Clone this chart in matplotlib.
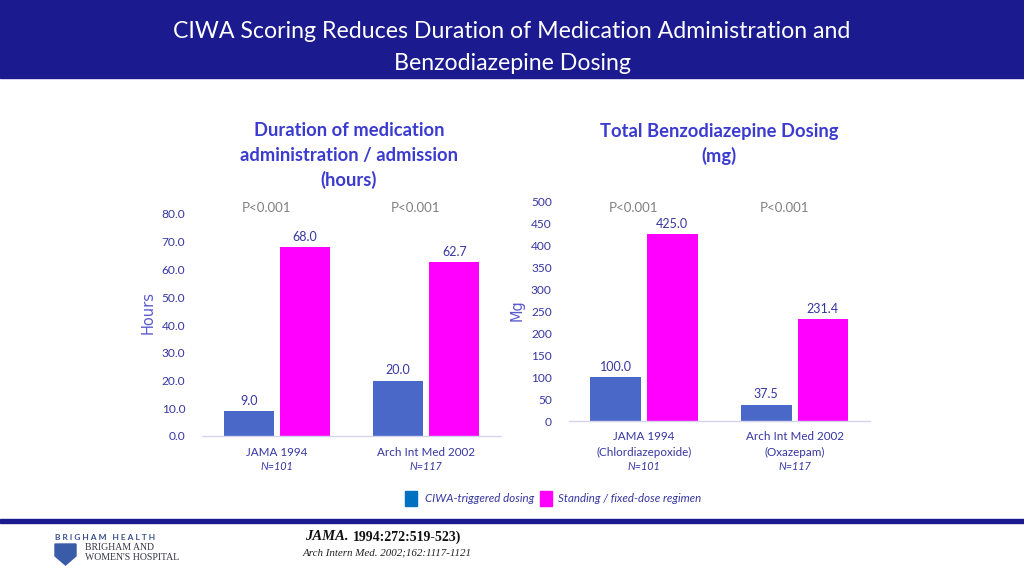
import matplotlib
matplotlib.use("Agg")
import matplotlib.pyplot as plt
from matplotlib.patches import Rectangle, Polygon
import numpy as np

# ---- data ----
left_categories = ["JAMA 1994", "Arch Int Med 2002"]
left_n = ["N=101", "N=117"]
left_ciwa = [9.0, 20.0]
left_fixed = [68.0, 62.7]
left_ticks = [0, 10, 20, 30, 40, 50, 60, 70, 80]

right_categories = ["JAMA 1994\n(Chlordiazepoxide)", "Arch Int Med 2002\n(Oxazepam)"]
right_n = ["N=101", "N=117"]
right_ciwa = [100.0, 37.5]
right_fixed = [425.0, 231.4]
right_ticks = [0, 50, 100, 150, 200, 250, 300, 350, 400, 450, 500]

pvalues = ["P<0.001", "P<0.001"]
series_names = ["CIWA-triggered dosing", "Standing / fixed-dose regimen"]

W, H = 1024, 576
NAVY = "#1b1a8f"
BLUE = "#4a68c8"
MAGENTA = "#ff00ff"
TXT = "#3636a0"
TITLE_C = "#3b3bd0"
GRAY = "#808080"
FONT = "Lato"

plt.rcParams['font.family'] = [FONT, 'DejaVu Sans']

fig = plt.figure(figsize=(W / 100, H / 100), dpi=100)


def fx(x):
    return x / W


def fy(y):
    return 1 - y / H


# header band
fig.patches.append(Rectangle((0, fy(78)), 1, 78 / H, transform=fig.transFigure,
                             color=NAVY, zorder=0))
fig.text(fx(512), fy(32), "CIWA Scoring Reduces Duration of Medication Administration and",
         ha="center", va="center", color="white", fontsize=16.7)
fig.text(fx(512), fy(63), "Benzodiazepine Dosing", ha="center", va="center",
         color="white", fontsize=16.7)

# bottom line
fig.patches.append(Rectangle((0, fy(523)), 1, 4 / H, transform=fig.transFigure,
                             color=NAVY, zorder=0))


def make_axes(l, r, b, t, cats, ns, ciwa, fixed, ticks, fmt, ylabel, ylab_x,
              ylab_y, label_y0):
    ax = fig.add_axes([fx(l), fy(b), (r - l) / W, (b - t) / H])
    x = np.arange(len(cats))
    w = 0.336
    off = 0.188
    ax.bar(x - off, ciwa, w, color=BLUE)
    ax.bar(x + off, fixed, w, color=MAGENTA)
    for xi, v in zip(x - off, ciwa):
        ax.annotate(f"{v:.1f}", (xi, v), xytext=(0, 3),
                    textcoords="offset points", ha="center", va="bottom",
                    fontsize=9, color=TXT)
    for xi, v in zip(x + off, fixed):
        ax.annotate(f"{v:.1f}", (xi, v), xytext=(0, 3),
                    textcoords="offset points", ha="center", va="bottom",
                    fontsize=9, color=TXT)
    ax.set_xlim(-0.5, len(cats) - 0.5)
    ax.set_ylim(ticks[0], ticks[-1])
    ax.set_yticks(ticks)
    ax.set_yticklabels([fmt.format(t) for t in ticks], fontsize=8.6, color=TXT)
    ax.tick_params(axis="y", length=0, pad=12)
    ax.set_xticks([])
    for s in ["top", "right", "left"]:
        ax.spines[s].set_visible(False)
    ax.spines["bottom"].set_color("#d4d4ee")
    ax.spines["bottom"].set_linewidth(1)
    # category labels
    for xi, c, n in zip(x, cats, ns):
        xp = ax.transData.transform((xi, 0))[0]
        lines = c.split("\n")
        y = label_y0
        for ln in lines:
            fig.text(xp / W, fy(y), ln, ha="center", va="center",
                     fontsize=8.4, color=TXT)
            y += 15
        fig.text(xp / W, fy(y), n, ha="center", va="center", fontsize=7.8,
                 color=TXT, style="italic")
    # p-values
    for xi, p in zip(x, pvalues):
        xp = ax.transData.transform((xi - 0.07, 0))[0]
        fig.text(xp / W, fy(208), p, ha="center", va="center", fontsize=9.5,
                 color=GRAY)
    fig.text(fx(ylab_x), fy(ylab_y), ylabel, rotation=90,
             ha="center", va="center", fontsize=10.5, color="#5a5ad0",
             family="DejaVu Sans")
    return ax


make_axes(202, 501, 436, 214, left_categories, left_n, left_ciwa, left_fixed,
          left_ticks, "{:.1f}", "Hours", 148, 313, 452)
make_axes(568.5, 870, 421, 201, right_categories, right_n, right_ciwa,
          right_fixed, right_ticks, "{:d}", "Mg", 517, 310, 437)

# chart titles
for i, ln in enumerate(["Duration of medication", "administration / admission", "(hours)"]):
    fig.text(fx(349), fy(131 + 24.5 * i), ln, ha="center", va="center",
             fontsize=13.2, fontweight="bold", color=TITLE_C)
for i, ln in enumerate(["Total Benzodiazepine Dosing", "(mg)"]):
    fig.text(fx(719), fy(131 + 24.5 * i), ln, ha="center", va="center",
             fontsize=13.2, fontweight="bold", color=TITLE_C)

# legend
fig.patches.append(Rectangle((fx(405), fy(506)), 12 / W, 15 / H,
                             transform=fig.transFigure, color="#0070c0"))
fig.text(fx(425), fy(498), series_names[0], ha="left", va="center",
         fontsize=8.3, style="italic", color=TXT)
fig.patches.append(Rectangle((fx(540), fy(506)), 12 / W, 15 / H,
                             transform=fig.transFigure, color=MAGENTA))
fig.text(fx(558), fy(498), series_names[1], ha="left", va="center",
         fontsize=8.3, style="italic", color=TXT)

# footer
fig.text(fx(55), fy(537), "B R I G H A M   H E A L T H", ha="left", va="center",
         fontsize=6, fontweight="bold", color="#3a4f8f")
shield = Polygon([[fx(55), fy(544)], [fx(76), fy(544)], [fx(76), fy(556)],
                  [fx(65.5), fy(565)], [fx(55), fy(556)]], closed=True,
                 transform=fig.transFigure, color="#3a5ba8")
fig.patches.append(shield)
fig.text(fx(85), fy(548), "BRIGHAM AND", ha="left", va="center", fontsize=7,
         family="Liberation Serif", color="#333344")
fig.text(fx(85), fy(557), "WOMEN'S HOSPITAL", ha="left", va="center",
         fontsize=7, family="Liberation Serif", color="#333344")
fig.text(fx(305), fy(537), "JAMA.", ha="left", va="center", fontsize=10.5,
         family="Liberation Serif", style="italic", fontweight="bold",
         color="#111111")
fig.text(fx(353), fy(537), "1994:272:519-523)", ha="left", va="center",
         fontsize=10, family="Liberation Serif", fontweight="bold",
         color="#111111")
fig.text(fx(303), fy(553), "Arch Intern Med. 2002;162:1117-1121", ha="left",
         va="center", fontsize=7.9, family="Liberation Serif", style="italic",
         color="#222222")

fig.savefig("out.png", dpi=100)
